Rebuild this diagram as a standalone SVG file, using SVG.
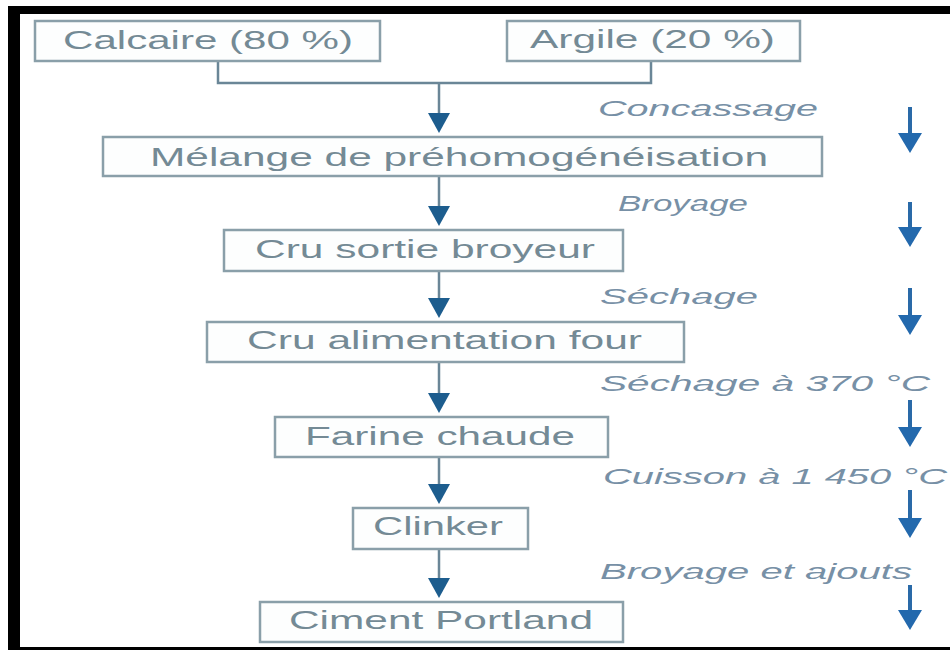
<svg xmlns="http://www.w3.org/2000/svg" width="950" height="650" viewBox="0 0 950 650">
<defs>
<style>
.box{fill:#fdfefe;stroke:#8a9fa9;stroke-width:2.5}
.bt{font-family:"Liberation Sans",Arial,sans-serif;font-size:26px;fill:#748a95}
.lb{font-family:"Liberation Sans",Arial,sans-serif;font-size:22px;font-style:italic;fill:#7790a6}
.ln{fill:none;stroke:#6a8697;stroke-width:2.5}
.sa{stroke:#2a6aa8;stroke-width:4;fill:none}
.ah{fill:#1d5d8e}
.sh{fill:#2369ad}
</style>
</defs>
<rect x="0" y="0" width="950" height="650" fill="#ffffff"/>
<rect x="8" y="6" width="942" height="8" fill="#000"/>
<rect x="8" y="6" width="12" height="644" fill="#000"/>
<rect x="8" y="647" width="942" height="3" fill="#000"/>

<g id="connectors">
<path class="ln" d="M218,61 V83 H651 V61"/>
<line class="ln" x1="439" y1="83" x2="439" y2="114"/>
<path class="ah" d="M428,113 L450,113 L439,133 Z"/>
<line class="ln" x1="439" y1="176" x2="439" y2="207"/>
<path class="ah" d="M428,206 L450,206 L439,226 Z"/>
<line class="ln" x1="439" y1="271" x2="439" y2="299"/>
<path class="ah" d="M428,298 L450,298 L439,318 Z"/>
<line class="ln" x1="439" y1="362" x2="439" y2="394"/>
<path class="ah" d="M428,393 L450,393 L439,413 Z"/>
<line class="ln" x1="439" y1="457" x2="439" y2="485"/>
<path class="ah" d="M428,484 L450,484 L439,504 Z"/>
<line class="ln" x1="439" y1="549" x2="439" y2="579"/>
<path class="ah" d="M428,578 L450,578 L439,598 Z"/>
</g>

<g id="side-arrows">
<line class="sa" x1="910" y1="107" x2="910" y2="135"/>
<path class="sh" d="M898,133 L922,133 L910,153 Z"/>
<line class="sa" x1="910" y1="202" x2="910" y2="229"/>
<path class="sh" d="M898,227 L922,227 L910,247 Z"/>
<line class="sa" x1="910" y1="288" x2="910" y2="317"/>
<path class="sh" d="M898,315 L922,315 L910,335 Z"/>
<line class="sa" x1="910" y1="400" x2="910" y2="429"/>
<path class="sh" d="M898,427 L922,427 L910,447 Z"/>
<line class="sa" x1="910" y1="490" x2="910" y2="520"/>
<path class="sh" d="M898,518 L922,518 L910,538 Z"/>
<line class="sa" x1="910" y1="585" x2="910" y2="612"/>
<path class="sh" d="M898,610 L922,610 L910,630 Z"/>
</g>

<g id="calcaire">
<rect class="box" x="35" y="21" width="345" height="40"/>
<text class="bt" x="63" y="49" textLength="290" lengthAdjust="spacingAndGlyphs">Calcaire (80 %)</text>
</g>
<g id="argile">
<rect class="box" x="507" y="21" width="293" height="40"/>
<text class="bt" x="530" y="48" textLength="245" lengthAdjust="spacingAndGlyphs">Argile (20 %)</text>
</g>
<g id="melange">
<rect class="box" x="103" y="137" width="719" height="39"/>
<text class="bt" x="150" y="166" textLength="618" lengthAdjust="spacingAndGlyphs">Mélange de préhomogénéisation</text>
</g>
<g id="cru-sortie">
<rect class="box" x="224" y="230" width="399" height="41"/>
<text class="bt" x="255" y="258" textLength="340" lengthAdjust="spacingAndGlyphs">Cru sortie broyeur</text>
</g>
<g id="cru-alimentation">
<rect class="box" x="207" y="322" width="477" height="40"/>
<text class="bt" x="247" y="349" textLength="395" lengthAdjust="spacingAndGlyphs">Cru alimentation four</text>
</g>
<g id="farine">
<rect class="box" x="275" y="417" width="333" height="40"/>
<text class="bt" x="305" y="445" textLength="270" lengthAdjust="spacingAndGlyphs">Farine chaude</text>
</g>
<g id="clinker">
<rect class="box" x="353" y="508" width="175" height="41"/>
<text class="bt" x="373" y="535" textLength="130" lengthAdjust="spacingAndGlyphs">Clinker</text>
</g>
<g id="ciment">
<rect class="box" x="260" y="602" width="363" height="40"/>
<text class="bt" x="289" y="629" textLength="304" lengthAdjust="spacingAndGlyphs">Ciment Portland</text>
</g>

<g id="labels">
<text class="lb" x="598" y="116" textLength="220" lengthAdjust="spacingAndGlyphs">Concassage</text>
<text class="lb" x="618" y="211" textLength="130" lengthAdjust="spacingAndGlyphs">Broyage</text>
<text class="lb" x="600" y="304" textLength="158" lengthAdjust="spacingAndGlyphs">Séchage</text>
<text class="lb" x="600" y="391" textLength="330" lengthAdjust="spacingAndGlyphs">Séchage à 370 °C</text>
<text class="lb" x="603" y="484" textLength="344" lengthAdjust="spacingAndGlyphs">Cuisson à 1 450 °C</text>
<text class="lb" x="600" y="579" textLength="312" lengthAdjust="spacingAndGlyphs">Broyage et ajouts</text>
</g>
</svg>
